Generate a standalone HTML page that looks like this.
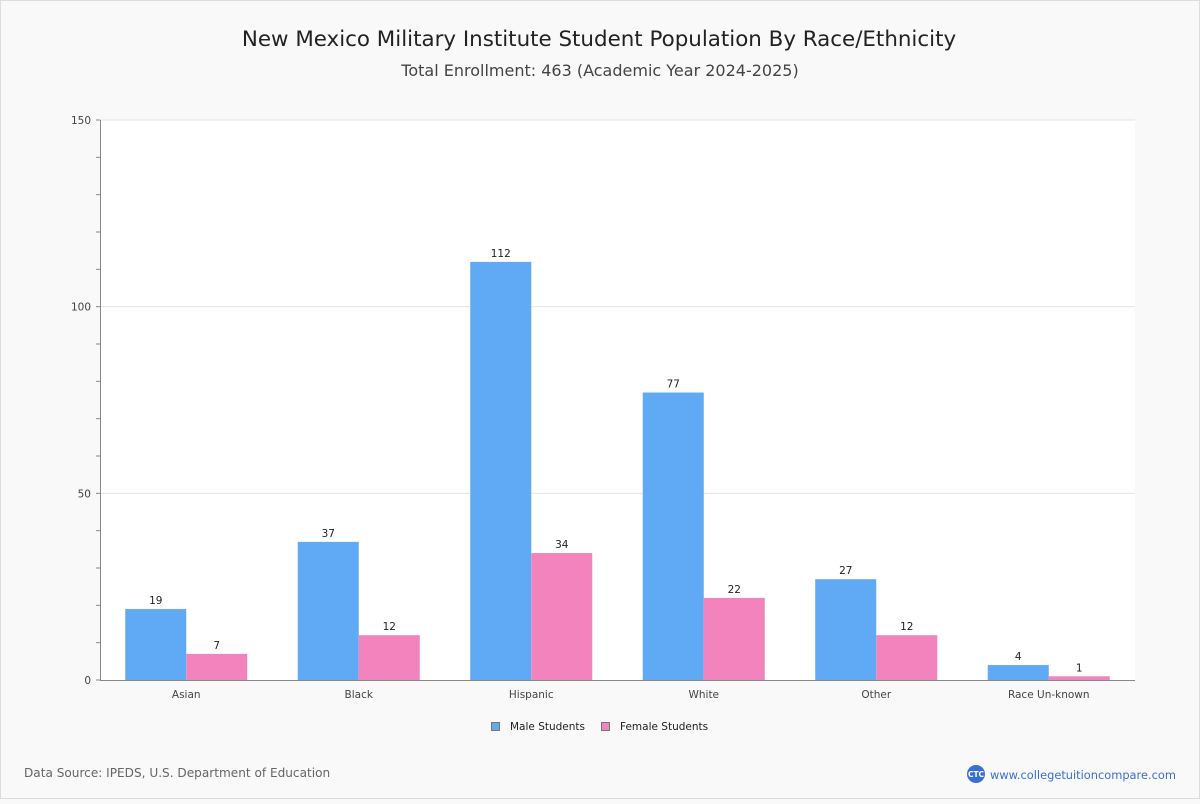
<!DOCTYPE html>
<html><head><meta charset="utf-8"><style>
body{margin:0;width:1200px;height:800px;background:#f9f9f9;font-family:"DejaVu Sans","Liberation Sans",sans-serif;overflow:hidden}
svg text{font-family:"DejaVu Sans","Liberation Sans",sans-serif}
</style></head><body>
<svg id="c" width="1200" height="800">
<rect x="0.5" y="0.5" width="1199" height="798" fill="#f9f9f9" stroke="#ddd"/>
<text x="599" y="46" text-anchor="middle" font-size="21.4" fill="#222">New Mexico Military Institute Student Population By Race/Ethnicity</text>
<text x="600" y="76" text-anchor="middle" font-size="16" fill="#444">Total Enrollment: 463 (Academic Year 2024-2025)</text>
<rect x="100" y="120" width="1035" height="560" fill="#fff"/>
<g id="grid"></g><g id="bars"></g><g id="axes"></g>
<g>
<rect x="491.5" y="722.5" width="8" height="8" fill="#60a9f5" stroke="#777"/>
<text x="510" y="730" font-size="10.5" fill="#222">Male Students</text>
<rect x="601.5" y="722.5" width="8" height="8" fill="#f283bd" stroke="#777"/>
<text x="620" y="730" font-size="10.5" fill="#222">Female Students</text>
</g>
<text x="24" y="777" font-size="12.1" fill="#666">Data Source: IPEDS, U.S. Department of Education</text>
<g>
<circle cx="976" cy="774" r="9" fill="#3a6fd8"/>
<text x="976" y="777" text-anchor="middle" font-size="7.5" fill="#fff" font-weight="bold">CTC</text>
<text x="990" y="779" font-size="11.4" fill="#3a6fd8">www.collegetuitioncompare.com</text>
</g>
</svg>
<script>
const categories=["Asian","Black","Hispanic","White","Other","Race Un-known"];
const maleValues=[19,37,112,77,27,4];
const femaleValues=[7,12,34,22,12,1];
const yTicks=[0,50,100,150];
const NS="http://www.w3.org/2000/svg";
const L=100,R=1135,T=120,B=680,YMAX=150;
const y=v=>B-(v/YMAX)*(B-T);
const bw=(R-L)/categories.length;
const x=i=>L+bw*i;
function mk(tag,a,parent,txt){const e=document.createElementNS(NS,tag);for(const k in a)e.setAttribute(k,a[k]);if(txt!==undefined)e.textContent=txt;document.getElementById(parent).appendChild(e);return e;}
for(let v=0;v<=YMAX;v+=10){const t=mk("line",{x1:96,x2:100,y1:y(v),y2:y(v),stroke:"#888"},"axes");

}
yTicks.forEach(v=>{
 if(v>0){const g=mk("line",{x1:L,x2:R,y1:y(v),y2:y(v),stroke:"#e3e3e3"},"grid");
 
 }
 const t=mk("text",{x:91,y:y(v)+4,"text-anchor":"end","font-size":10.5,fill:"#444"},"axes",v);
 
 
});
const ax=mk("line",{x1:100.5,x2:100.5,y1:T,y2:B,stroke:"#888"},"axes");


const xa=mk("line",{x1:L,x2:R,y1:B+0.5,y2:B+0.5,stroke:"#888"},"axes");


const barW=61;
categories.forEach((c,i)=>{
 const cx=x(i)+bw/2;
 [[maleValues[i],"#60a9f5",cx-barW,"male"],[femaleValues[i],"#f283bd",cx,"female"]].forEach(([v,col,bx,s])=>{
  const r=mk("rect",{x:bx,y:y(v),width:barW,height:B-y(v),fill:col},"bars");
  
  
  const l=mk("text",{x:bx+barW/2,y:y(v)-5,"text-anchor":"middle","font-size":10.5,fill:"#222"},"bars",v);
  
  
 });
 const t=mk("text",{x:cx,y:698,"text-anchor":"middle","font-size":10.5,fill:"#444"},"axes",c);
 
 
});
</script>
</body></html>
